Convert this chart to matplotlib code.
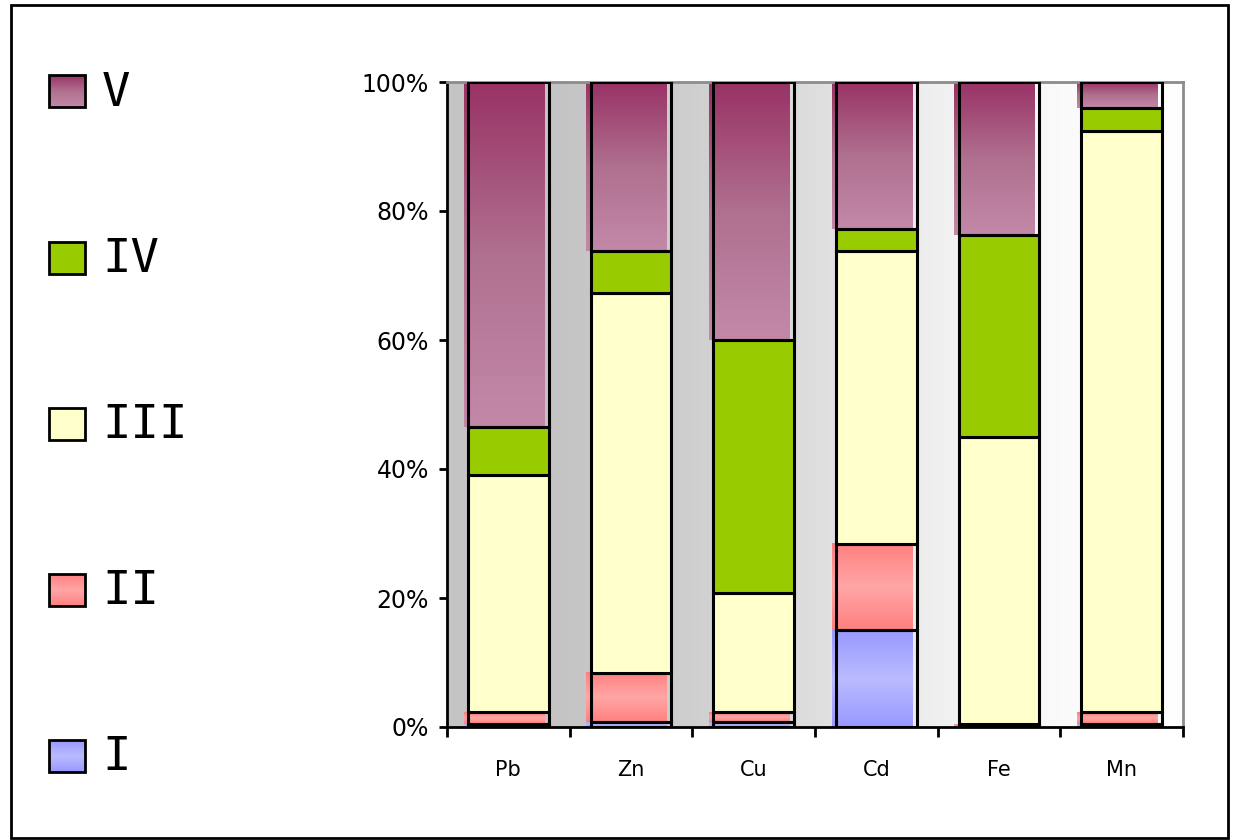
import matplotlib
matplotlib.use("Agg")
import matplotlib.pyplot as plt
import numpy as np
from matplotlib.colors import to_rgb, LinearSegmentedColormap
from matplotlib.patches import Rectangle

categories = ["Pb", "Zn", "Cu", "Cd", "Fe", "Mn"]
series_names = ["I", "II", "III", "IV", "V"]
frac_I = [0.5, 0.8, 0.8, 15.0, 0.2, 0.5]
frac_II = [1.8, 7.6, 1.5, 13.4, 0.2, 1.8]
frac_III = [36.8, 58.9, 18.5, 45.4, 44.6, 90.1]
frac_IV = [7.4, 6.5, 39.2, 3.4, 31.3, 3.6]
frac_V = [53.5, 26.2, 40.0, 22.8, 23.7, 4.0]
series = [frac_I, frac_II, frac_III, frac_IV, frac_V]

# fill style per series: flat colour or vertical gradient (top, middle, bottom)
fills = {
    "I": ("#9999ff", "#bbbbff", "#9999ff"),
    "II": ("#ff8080", "#ffa6a6", "#ff8080"),
    "III": "#ffffcc",
    "IV": "#99cc00",
    "V": ("#993366", "#b0708f", "#c388a8"),
}


def grad_array(cols, n=64):
    cmap = LinearSegmentedColormap.from_list("g", [to_rgb(c) for c in cols])
    return cmap(np.linspace(0, 1, n))[:, None, :3]


W, H = 1233, 840
fig = plt.figure(figsize=(W / 100, H / 100), dpi=100)
plt.rcParams["font.family"] = ["DejaVu Sans"]

ax = fig.add_axes([447 / W, (H - 727) / H, 736 / W, 645 / H])

# background: horizontal grey -> white
bg = LinearSegmentedColormap.from_list(
    "bg", [(0, "#c4c4c4"), (0.167, "#c5c5c5"), (0.333, "#cfcfcf"), (0.5, "#dedede"),
           (0.667, "#f0f0f0"), (0.833, "#fafafa"), (1, "#ffffff")])
ax.imshow(bg(np.linspace(0, 1, 256))[None, :, :3], extent=[-0.5, 5.5, 0, 100],
          aspect="auto", zorder=0, interpolation="bilinear")

x = np.arange(len(categories))
width = 0.66
shift = 0.033
bottom = np.zeros(len(categories))
for name, vals in zip(series_names, series):
    vals = np.array(vals)
    f = fills[name]
    if isinstance(f, tuple):
        g = grad_array(f)
        for xi, b, v in zip(x, bottom, vals):
            ax.imshow(g, extent=[xi - width / 2 - shift, xi + width / 2 - shift, b, b + v],
                      aspect="auto", zorder=2, interpolation="bilinear")
        ax.bar(x, vals, width, bottom=bottom, facecolor="none", edgecolor="black",
               linewidth=2.2, zorder=3)
    else:
        ax.bar(x, vals, width, bottom=bottom, color=f, edgecolor="black",
               linewidth=2.2, zorder=3)
    bottom += vals

ax.set_xlim(-0.5, 5.5)
ax.set_ylim(0, 100)
ax.set_yticks(np.arange(0, 101, 20))
ax.set_yticklabels([f"{v}%" for v in range(0, 101, 20)], fontsize=17)
ax.set_xticks(np.arange(-0.5, 6, 1))
ax.set_xticklabels([])
ax.set_xticks(x, minor=True)
ax.set_xticklabels(categories, minor=True, fontsize=15)
ax.tick_params(axis="x", which="minor", length=0, pad=24)
ax.tick_params(axis="x", which="major", length=7, width=2, direction="out")
ax.tick_params(axis="y", length=6, width=2, pad=7)
for s in ["left", "bottom"]:
    ax.spines[s].set_linewidth(2)
    ax.spines[s].set_color("black")
for s in ["top", "right"]:
    ax.spines[s].set_linewidth(2)
    ax.spines[s].set_color("#8c8c8c")

# overlay for border and legend, in pixel coordinates
ov = fig.add_axes([0, 0, 1, 1], zorder=-1)
ov.set_xlim(0, W)
ov.set_ylim(H, 0)
ov.axis("off")
ov.add_patch(Rectangle((11, 5), 1217, 833, fill=False, edgecolor="black", linewidth=2))

leg_y = [756, 590, 424, 258, 91]
for name, yc in zip(series_names, leg_y):
    f = fills[name]
    x0, x1, y0, y1 = 49, 85, yc - 16, yc + 16
    if isinstance(f, tuple):
        ov.imshow(grad_array(f), extent=[x0, x1, y1, y0], aspect="auto",
                  interpolation="bilinear", zorder=2)
        ov.add_patch(Rectangle((x0, y0), x1 - x0, y1 - y0, fill=False,
                               edgecolor="black", linewidth=2, zorder=3))
    else:
        ov.add_patch(Rectangle((x0, y0), x1 - x0, y1 - y0, facecolor=f,
                               edgecolor="black", linewidth=2, zorder=3))
    ov.text(102, yc + 2, name, fontsize=34, va="center", ha="left",
            family=["DejaVu Sans Mono"])
ov.set_xlim(0, W)
ov.set_ylim(H, 0)

fig.savefig("out.png", dpi=100)
